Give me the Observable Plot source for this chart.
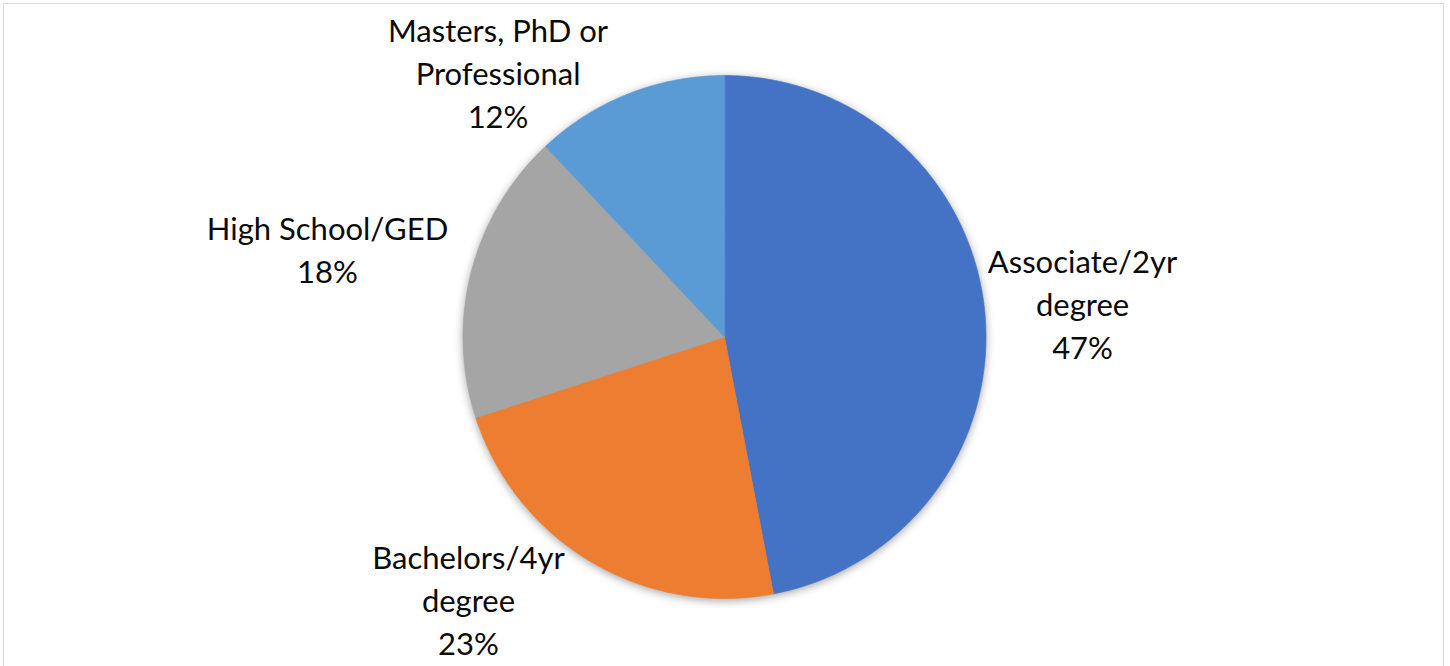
<!DOCTYPE html>
<html>
<head>
<meta charset="utf-8">
<script src="https://cdn.jsdelivr.net/npm/d3@7"></script>
<script src="https://cdn.jsdelivr.net/npm/@observablehq/plot@0.6"></script>
<style>
  html, body { margin: 0; padding: 0; background: #fff; }
  #wrap { position: relative; width: 1450px; height: 666px; overflow: hidden; }
  #frame { position: absolute; left: 3px; top: 3px; width: 1439px; height: 720px;
           border: 1.5px solid #d9d9d9; pointer-events: none; }
  #wrap svg { display: block; }
</style>
</head>
<body>
<div id="wrap"><div id="frame"></div></div>
<script>
// ---- data ----
const categories = ["Associate/2yr degree", "Bachelors/4yr degree", "High School/GED", "Masters, PhD or Professional"];
const values = [47, 23, 18, 12];
const labelLines = [
  ["Associate/2yr", "degree"],
  ["Bachelors/4yr", "degree"],
  ["High School/GED"],
  ["Masters, PhD or", "Professional"]
];
const colors = ["#4472C4", "#ED7D31", "#A5A5A5", "#5B9BD5"];

// ---- layout ----
const W = 1450, H = 666;
const cx = 724, cy = 336.5, R = 261.5;          // pie centre & radius (pixels)
// label box-centre offsets from the slice's outer mid-point (pixels)
const labelOffset = [[97.7, -10.5], [-122.9, 36.5], [-143.7, -24], [-130.2, -22.5]];

const arcs = d3.pie().sort(null).value(d => d)(values);

// polygon points for each slice in unit-circle coordinates
const slicePts = [];
arcs.forEach((a, i) => {
  slicePts.push({cat: categories[i], u: 0, v: 0});
  const n = Math.max(8, Math.ceil((a.endAngle - a.startAngle) / (Math.PI / 360)));
  for (let k = 0; k <= n; k++) {
    const t = a.startAngle + (a.endAngle - a.startAngle) * k / n;
    slicePts.push({cat: categories[i], u: Math.sin(t), v: Math.cos(t)});
  }
});

const labels = arcs.map((a, i) => {
  const m = (a.startAngle + a.endAngle) / 2;
  return {
    cat: categories[i],
    u: Math.sin(m) + labelOffset[i][0] / R,
    v: Math.cos(m) - labelOffset[i][1] / R,
    text: [...labelLines[i], values[i] + "%"].join("\n")
  };
});

const chart = Plot.plot({
  width: W,
  height: H,
  margin: 0,
  x: {domain: [-cx / R, (W - cx) / R], axis: null},
  y: {domain: [(cy - H) / R, cy / R], axis: null},
  color: {domain: categories, range: colors},
  style: {background: "transparent"},
  marks: [
    Plot.line(slicePts, {x: "u", y: "v", z: "cat", fill: "cat", stroke: "cat",
      strokeWidth: 0.6, curve: "linear-closed"}),
    Plot.text(labels, {x: "u", y: "v", text: "text", fontSize: 31, lineHeight: 1.387,
      fontFamily: "Lato, 'Open Sans', sans-serif", fill: "#0a0a0a", lineAnchor: "middle",
      textAnchor: "middle"})
  ]
});
document.getElementById("wrap").prepend(chart);
d3.select(chart).select('g[aria-label="line"]')
  .style("filter", "drop-shadow(0px 2px 4px rgba(0,0,0,0.35))");
</script>
</body>
</html>
